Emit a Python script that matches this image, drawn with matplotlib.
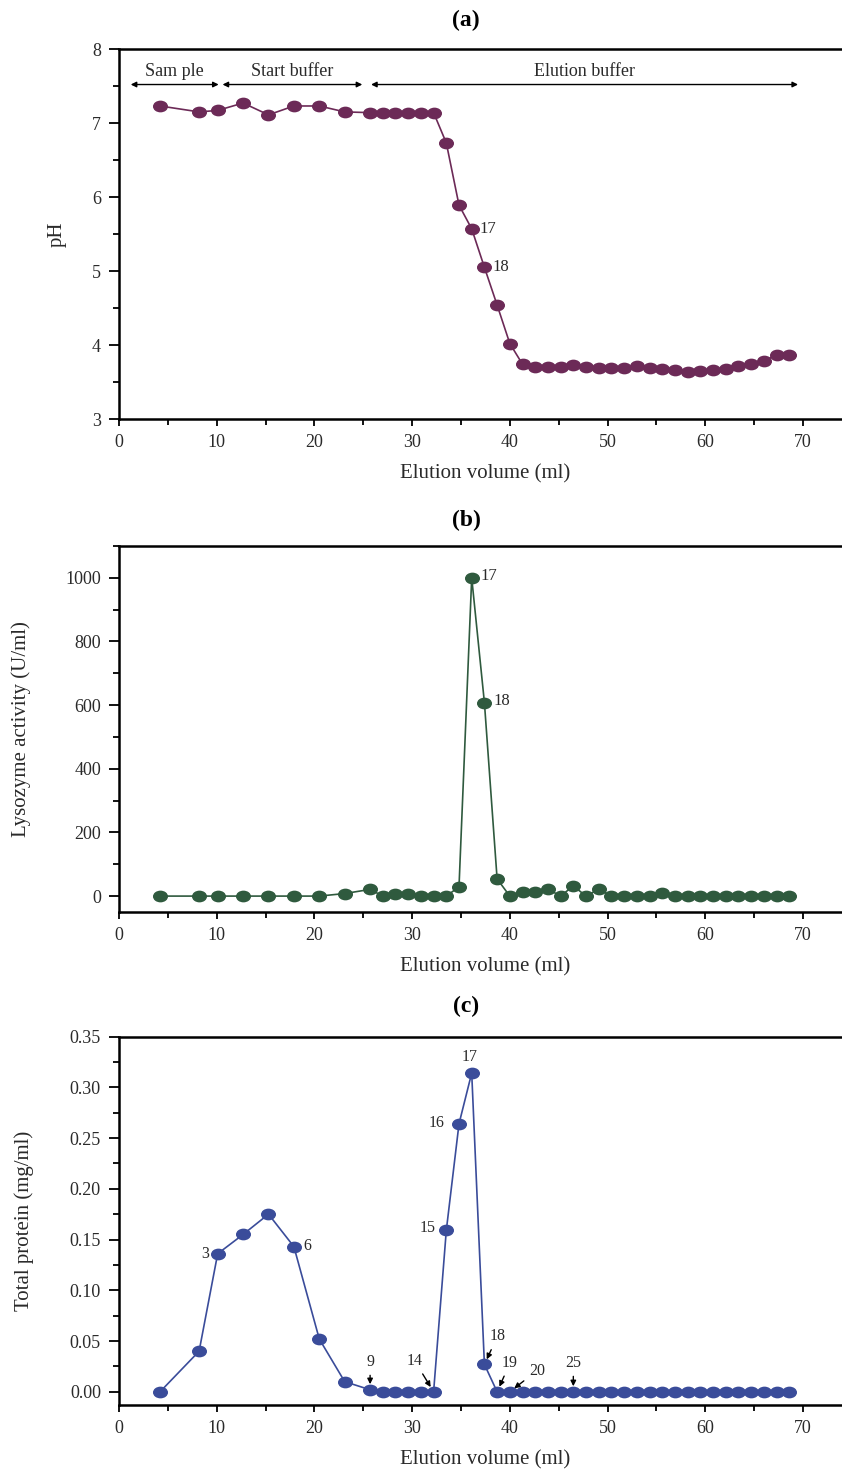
import matplotlib
matplotlib.use("Agg")
import matplotlib.pyplot as plt
from matplotlib.ticker import MultipleLocator
from matplotlib.path import Path
from matplotlib.transforms import Affine2D

# fraction volumes (ml), one per collected fraction
vol = [4.2, 8.2, 10.1, 12.7, 15.3, 17.9, 20.5, 23.1, 25.7, 27.0,
       28.3, 29.6, 30.9, 32.2, 33.5, 34.8, 36.1, 37.4, 38.7, 40.0,
       41.3, 42.6, 43.9, 45.2, 46.5, 47.8, 49.1, 50.4, 51.7, 53.0,
       54.3, 55.6, 56.9, 58.2, 59.5, 60.8, 62.1, 63.4, 64.7, 66.0,
       67.3, 68.6]

ph = [7.23, 7.15, 7.17, 7.27, 7.11, 7.23, 7.23, 7.15, 7.14, 7.14,
      7.14, 7.14, 7.14, 7.14, 6.73, 5.89, 5.57, 5.05, 4.54, 4.02,
      3.74, 3.70, 3.70, 3.70, 3.73, 3.70, 3.69, 3.69, 3.69, 3.72,
      3.69, 3.68, 3.66, 3.63, 3.65, 3.66, 3.68, 3.71, 3.74, 3.79,
      3.86, 3.87]

lyso = [0, 0, 0, 0, 0, 0, 0, 8, 21, 0,
        8, 8, 0, 0, 0, 29, 1000, 608, 54, 0,
        14, 14, 22, 0, 32, 0, 22, 0, 0, 0,
        0, 10, 0, 0, 0, 0, 0, 0, 0, 0,
        0, 0]

protein = [0.0, 0.040, 0.136, 0.155, 0.175, 0.143, 0.052, 0.010, 0.002, 0.0,
           0.0, 0.0, 0.0, 0.0, 0.159, 0.264, 0.314, 0.027, 0.0, 0.0,
           0.0, 0.0, 0.0, 0.0, 0.0, 0.0, 0.0, 0.0, 0.0, 0.0,
           0.0, 0.0, 0.0, 0.0, 0.0, 0.0, 0.0, 0.0, 0.0, 0.0,
           0.0, 0.0]

# buffer regions on the pH panel: (label, start ml, end ml)
regions = [("Sam ple", 1.2, 10.2), ("Start buffer", 10.6, 24.9), ("Elution buffer", 25.8, 69.5)]

plt.rcParams['font.family'] = ['Liberation Serif', 'DejaVu Serif']
txt_col = '#2a2a2a'

W, H = 842, 1470
fig = plt.figure(figsize=(W / 100, H / 100), dpi=100)

# flattened dot, the scanned markers are wider than tall
ellipse = Path.unit_circle().transformed(Affine2D().scale(1.0, 0.76))


def make_axes(top_px, bottom_px):
    left_px = 119
    ax = fig.add_axes([left_px / W, (H - bottom_px) / H, (W - left_px) / W, (bottom_px - top_px) / H])
    ax.spines['right'].set_visible(False)
    for s in ['left', 'bottom', 'top']:
        ax.spines[s].set_linewidth(1.8)
    ax.set_xlim(0, 74)
    ax.xaxis.set_major_locator(MultipleLocator(10))
    ax.xaxis.set_minor_locator(MultipleLocator(5))
    ax.tick_params(which='both', direction='out', width=1.3, labelsize=13, labelcolor=txt_col)
    ax.tick_params(which='major', length=5, pad=6)
    ax.tick_params(which='minor', length=4)
    ax.tick_params(axis='y', which='major', length=7)
    ax.tick_params(axis='y', which='minor', length=4)
    ax.set_xlabel("Elution volume (ml)", fontsize=15, color=txt_col)
    ax.xaxis.set_label_coords(0.506, -0.122)
    return ax


def draw(ax, y, col):
    ax.plot(vol, y, '-', color=col, lw=1.2, marker=ellipse, ms=9.8, mec=col, mfc=col)


# ---- (a) pH ----
ax1 = make_axes(49, 419)
draw(ax1, ph, '#6c2a57')
ax1.set_ylim(3, 8)
ax1.yaxis.set_major_locator(MultipleLocator(1))
ax1.yaxis.set_minor_locator(MultipleLocator(0.5))
ax1.set_ylabel("pH", fontsize=15, color=txt_col)
ax1.yaxis.set_label_coords(-0.072, 0.5)
for label, x0, x1 in regions:
    ax1.annotate("", xy=(x0, 7.52), xytext=(x1, 7.52),
                 arrowprops=dict(arrowstyle='<|-|>', color='black', lw=1.0,
                                 mutation_scale=8, shrinkA=0, shrinkB=0))
    ax1.text((x0 + x1) / 2, 7.69, label, ha='center', va='center', fontsize=13, color=txt_col)
for i in [16, 17]:
    ax1.annotate(str(i + 1), xy=(vol[i], ph[i]), xytext=(16, 0), textcoords='offset pixels',
                 ha='center', va='center', fontsize=12, color=txt_col)
fig.text(466 / W, 1 - 20 / H, "(a)", ha='center', va='center', fontsize=17, fontweight='bold')

# ---- (b) lysozyme activity ----
ax2 = make_axes(546, 912)
draw(ax2, lyso, '#2f5a3e')
ax2.set_ylim(-50, 1100)
ax2.yaxis.set_major_locator(MultipleLocator(200))
ax2.yaxis.set_minor_locator(MultipleLocator(100))
ax2.set_ylabel("Lysozyme activity (U/ml)", fontsize=15, color=txt_col)
ax2.yaxis.set_label_coords(-0.122, 0.5)
ax2.xaxis.set_label_coords(0.506, -0.124)
for i in [16, 17]:
    ax2.annotate(str(i + 1), xy=(vol[i], lyso[i]), xytext=(17, 2), textcoords='offset pixels',
                 ha='center', va='center', fontsize=12, color=txt_col)
fig.text(466 / W, 1 - 520 / H, "(b)", ha='center', va='center', fontsize=17, fontweight='bold')

# ---- (c) total protein ----
ax3 = make_axes(1036.5, 1405)
draw(ax3, protein, '#3a4c9a')
ax3.set_ylim(-0.013, 0.35)
ax3.yaxis.set_major_locator(MultipleLocator(0.05))
ax3.yaxis.set_minor_locator(MultipleLocator(0.025))
ax3.yaxis.set_major_formatter(plt.FormatStrFormatter('%.2f'))
ax3.set_ylabel("Total protein (mg/ml)", fontsize=15, color=txt_col)
ax3.yaxis.set_label_coords(-0.117, 0.5)
ax3.xaxis.set_label_coords(0.506, -0.123)

# plain labels next to points (fraction index, offset px)
plain = [(2, (-12, 0)), (5, (13, 1)), (14, (-19, 2)), (15, (-22, 1)), (16, (-2, 16))]
for i, off in plain:
    ax3.annotate(str(i + 1), xy=(vol[i], protein[i]), xytext=off, textcoords='offset pixels',
                 ha='center', va='center', fontsize=11.5, color=txt_col)

# labels with arrows
arrowed = [(8, (0, 28)), (13, (-19, 31)), (17, (13, 28)), (18, (13, 29)), (19, (27, 21)), (24, (0, 29))]
for i, off in arrowed:
    ax3.annotate(str(i + 1), xy=(vol[i], protein[i]), xytext=off, textcoords='offset pixels',
                 ha='center', va='center', fontsize=11.5, color=txt_col,
                 arrowprops=dict(arrowstyle='-|>', color='black', lw=1.0,
                                 mutation_scale=8, shrinkA=2, shrinkB=4))
fig.text(466 / W, 1 - 1006 / H, "(c)", ha='center', va='center', fontsize=17, fontweight='bold')

fig.savefig("out.png", dpi=100)
